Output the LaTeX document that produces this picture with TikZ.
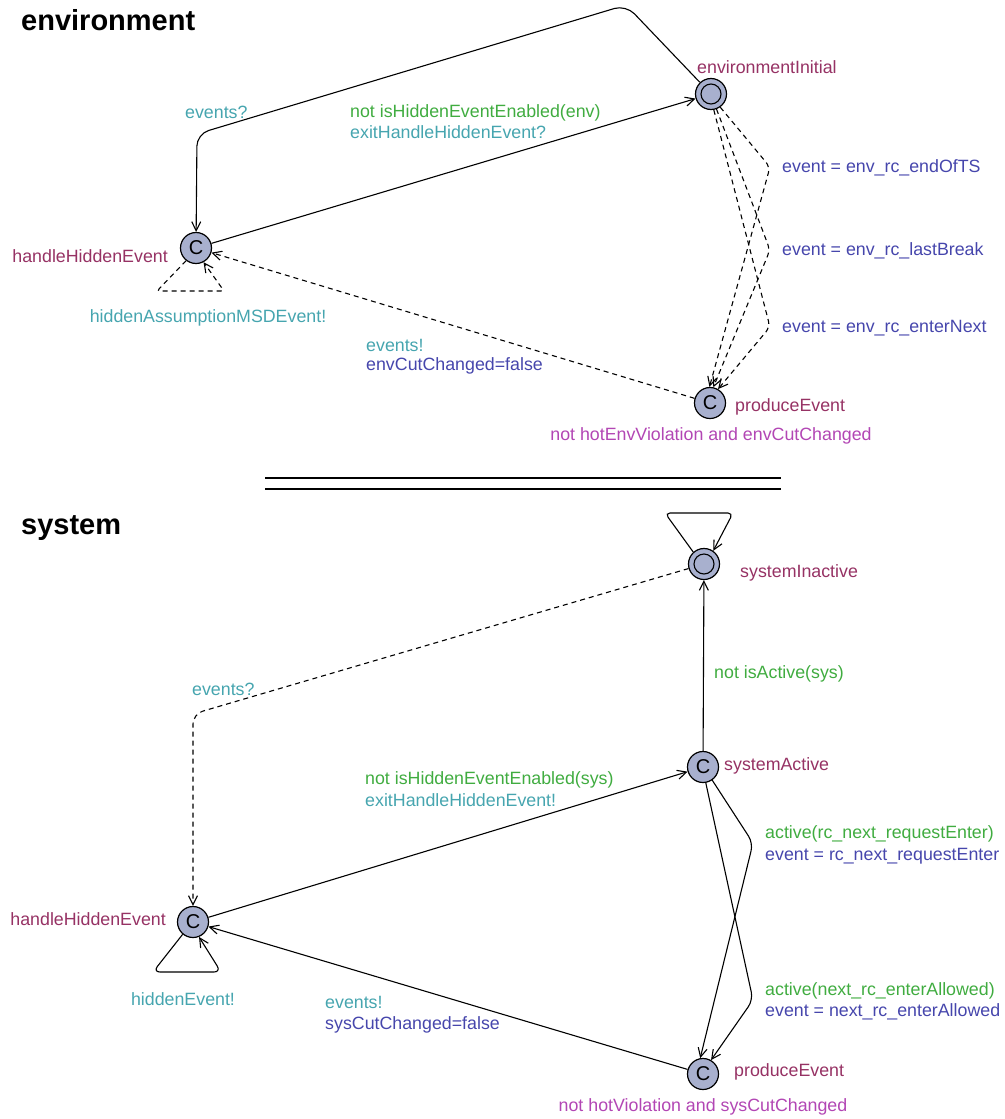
\documentclass[tikz,border=0pt]{standalone}
\usepackage{fontspec}
\setmainfont{Liberation Sans}
\usetikzlibrary{arrows.meta}

\definecolor{locfill}{RGB}{168,176,206}
\definecolor{locname}{RGB}{150,50,100}
\definecolor{synccol}{RGB}{70,165,175}
\definecolor{guardcol}{RGB}{64,172,64}
\definecolor{updcol}{RGB}{70,70,172}
\definecolor{invcol}{RGB}{178,70,180}

\begin{document}
\begin{tikzpicture}[x=1pt,y=-1pt,
  font=\fontsize{17.8}{20}\selectfont,
  loc/.style={circle, draw, fill=locfill, minimum size=31pt, inner sep=0pt, line width=1.2pt},
  committed/.style={loc, font=\fontsize{20}{20}\selectfont},
  initloc/.style={loc, path picture={\draw[line width=1.1pt] (path picture bounding box.center) circle (10pt);}},
  edge/.style={draw, line width=1.1pt, -{Straight Barb[length=9pt,width=9pt]}},
  dashedge/.style={edge, dash pattern=on 5pt off 4pt},
  lname/.style={text=locname, inner sep=0pt},
  sync/.style={text=synccol, inner sep=0pt, anchor=west},
  guard/.style={text=guardcol, inner sep=0pt, anchor=west},
  upd/.style={text=updcol, inner sep=0pt, anchor=west},
  inv/.style={text=invcol, inner sep=0pt},
  title/.style={font=\fontsize{29}{30}\selectfont\bfseries, inner sep=0pt, anchor=west}]

\useasboundingbox (0,0) rectangle (1004,1119);

% ---------------- environment automaton ----------------
\node[title] (envtitle) at (21,20) {environment};

\node[initloc] (ei) at (711,94) {};
\node[committed] (eh) at (196,248) {C};
\node[committed] (ep) at (710,403) {C};

\node[lname, anchor=west] (einame) at (697,67) {environmentInitial};
\node[lname, anchor=east] (ehname) at (168,256) {handleHiddenEvent};
\node[lname, anchor=west] (epname) at (735,407) {produceEvent};
\node[inv] (epinv) at (711,436) {not hotEnvViolation and envCutChanged};

% entering the hidden-event handler
\coordinate (eb1) at (626,5);
\coordinate (eb2) at (197,134);
\draw[edge, rounded corners=12pt] (ei) -- (eb1) -- (eb2) -- (eh);
\node[sync] (el1) at (185,112) {events?};

% leaving the hidden-event handler
\draw[edge] (eh) -- (ei);
\node[guard] (el2) at (350,113) {not isHiddenEventEnabled(env)};
\node[sync] (el3) at (350,132) {exitHandleHiddenEvent?};

% hidden assumption loop
\coordinate (ec1) at (157,291);
\coordinate (ec2) at (224,291);
\draw[dashedge, rounded corners=3pt] (eh.-128) -- (ec1) -- (ec2) -- (eh.-62);
\node[sync, anchor=center] (el4) at (208,318) {hiddenAssumptionMSDEvent!};

% produced event returns to the handler
\draw[dashedge] (ep) -- (eh);
\node[sync] (el5) at (366,345) {events!};
\node[upd] (el6) at (366,366) {envCutChanged=false};

% environment events
\coordinate (ed1) at (770,167);
\coordinate (ed2) at (770,250);
\coordinate (ed3) at (770,327);
\draw[dashedge, rounded corners=6pt] (ei.-55) -- (ed1) -- (ep.92);
\draw[dashedge, rounded corners=6pt] (ei.-70) -- (ed2) -- (ep.78);
\draw[dashedge, rounded corners=6pt] (ei.-80) -- (ed3) -- (ep.60);
\node[upd] (el7) at (782,168) {event = env\_rc\_endOfTS};
\node[upd] (el8) at (782,251) {event = env\_rc\_lastBreak};
\node[upd] (el9) at (782,328) {event = env\_rc\_enterNext};

% ---------------- separator ----------------
\coordinate (sepa) at (265,478);
\coordinate (sepb) at (781,478);
\coordinate (sepc) at (265,489);
\coordinate (sepd) at (781,489);
\draw[line width=2.4pt] (sepa) -- (sepb);
\draw[line width=2.4pt] (sepc) -- (sepd);

% ---------------- system automaton ----------------
\node[title] (systitle) at (21,528) {system};

\node[initloc] (si) at (704,564) {};
\node[committed] (sa) at (703,767) {C};
\node[committed] (sh) at (193,922) {C};
\node[committed] (sp) at (703,1074) {C};

\node[lname, anchor=west] (siname) at (740,573) {systemInactive};
\node[lname, anchor=west] (saname) at (724,766) {systemActive};
\node[lname, anchor=east] (shname) at (166,919) {handleHiddenEvent};
\node[lname, anchor=west] (spname) at (734,1072) {produceEvent};
\node[inv] (spinv) at (703,1107) {not hotViolation and sysCutChanged};

% inactive loop
\coordinate (sc1) at (665,513);
\coordinate (sc2) at (733,513);
\draw[edge, rounded corners=5pt] (si.132) -- (sc1) -- (sc2) -- (si.55);

% deactivation
\draw[edge] (sa) -- (si);
\node[guard] (sl1) at (714,674) {not isActive(sys)};

% inactive to handler
\coordinate (sb1) at (193,714);
\draw[dashedge, rounded corners=10pt] (si) -- (sb1) -- (sh);
\node[sync] (sl2) at (192,689) {events?};

% handler to active
\draw[edge] (sh) -- (sa);
\node[guard] (sl3) at (365,780) {not isHiddenEventEnabled(sys)};
\node[sync] (sl4) at (365,800) {exitHandleHiddenEvent!};

% hidden event loop
\coordinate (sc3) at (153,972);
\coordinate (sc4) at (221,972);
\draw[edge, rounded corners=7pt] (sh.-130) -- (sc3) -- (sc4) -- (sh.-68);
\node[sync, anchor=center] (sl5) at (183,999) {hiddenEvent!};

% produced event back to the handler
\draw[edge] (sp) -- (sh);
\node[sync] (sl6) at (325,1002) {events!};
\node[upd] (sl7) at (325,1025) {sysCutChanged=false};

% active to produce
\coordinate (sd1) at (753,843);
\coordinate (sd2) at (753,1000);
\draw[edge, rounded corners=8pt] (sa.-55) -- (sd1) -- (sp.100);
\draw[edge, rounded corners=8pt] (sa.-80) -- (sd2) -- (sp.60);
\node[guard] (sl8) at (765,834) {active(rc\_next\_requestEnter)};
\node[upd] (sl9) at (765,856) {event = rc\_next\_requestEnter};
\node[guard] (sl10) at (765,991) {active(next\_rc\_enterAllowed)};
\node[upd] (sl11) at (765,1012) {event = next\_rc\_enterAllowed};

\end{tikzpicture}
\end{document}
